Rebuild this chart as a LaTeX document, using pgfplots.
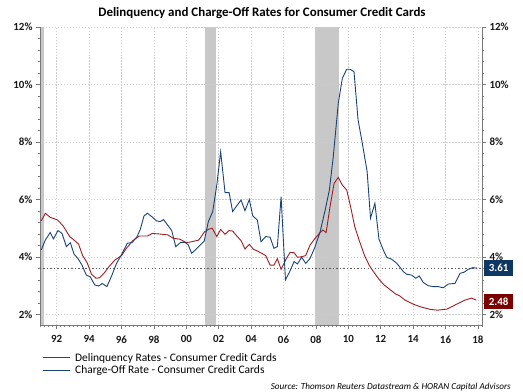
\documentclass[border=0pt]{standalone}
\usepackage{pgfplots}
\pgfplotsset{compat=1.18}
\usepackage{fontspec}
\setmainfont{Carlito}
\definecolor{delred}{RGB}{160,28,32}
\definecolor{chblue}{RGB}{24,66,120}
\definecolor{navybox}{RGB}{14,56,99}
\definecolor{redbox}{RGB}{122,0,0}
\definecolor{recgray}{RGB}{200,200,200}
\definecolor{gridgray}{RGB}{205,205,205}
\definecolor{axgray}{RGB}{120,120,120}
\pgfplotsset{
  chartbase/.style={
    at={(40bp,67bp)}, anchor=south west,
    scale only axis, width=442bp, height=298bp,
    xmin=1990.97, xmax=2018.25, ymin=1.635, ymax=12,
    tick align=outside,
    major tick length=4bp, minor tick length=2.2bp,
    every tick/.style={axgray, line width=0.6pt},
    axis line style={axgray, line width=0.9pt},
    ytick={2,4,...,12},
    minor y tick num=4,
    yticklabel={\pgfmathprintnumber{\tick}\%},
    /pgf/number format/assume math mode=true,
    tick label style={font=\bfseries\fontsize{11}{13}\selectfont, text=black!90},
    clip=false,
  }
}
\begin{document}
\begin{tikzpicture}
\path (0bp,0bp) rectangle (523bp,392bp);
\begin{axis}[chartbase, set layers,
  axis x line*=bottom, axis y line*=left,
  xtick={1992,1994,...,2018},
  xticklabels={92,94,96,98,00,02,04,06,08,10,12,14,16,18},
  minor xtick={1991,1991.25,...,2018.25},
  xmajorgrids, ymajorgrids,
  major grid style={gridgray, dash pattern=on 1.5pt off 1.5pt, line width=0.6pt},
  minor grid style={draw=none},
  xticklabel style={yshift=-3bp},
]
% recession bars
\addplot[on layer=axis background, fill=recgray, draw=none, forget plot]
  coordinates {(1990.97,1.635) (1990.97,12) (1991.2,12) (1991.2,1.635)} -- cycle;
\addplot[on layer=axis background, fill=recgray, draw=none, forget plot]
  coordinates {(2001.17,1.635) (2001.17,12) (2001.83,12) (2001.83,1.635)} -- cycle;
\addplot[on layer=axis background, fill=recgray, draw=none, forget plot]
  coordinates {(2007.92,1.635) (2007.92,12) (2009.42,12) (2009.42,1.635)} -- cycle;
% dotted reference line
\addplot[black!65, line width=1.2pt, dash pattern=on 1.2pt off 2.3pt, forget plot]
  coordinates {(1990.97,3.61) (2018.25,3.61)};
% delinquency
\addplot[delred, line width=0.9pt] coordinates {
(1991.05,5.26) (1991.3,5.52) (1991.6,5.38) (1992.05,5.29) (1992.4,5.08) (1992.8,4.71)
(1993.07,4.59) (1993.35,4.45) (1993.6,4.05) (1993.88,3.8) (1994.15,3.4) (1994.43,3.26)
(1994.65,3.28) (1994.94,3.45) (1995.25,3.68) (1995.6,3.9) (1996.0,4.05) (1996.3,4.3)
(1996.7,4.57) (1997.1,4.73) (1997.6,4.73) (1997.9,4.82) (1998.35,4.8) (1998.85,4.77)
(1999.2,4.65) (1999.6,4.62) (2000.0,4.5) (2000.33,4.53) (2000.77,4.59) (2001.13,4.88)
(2001.4,4.97) (2001.6,5.0) (2001.88,4.71) (2002.12,4.96) (2002.39,4.79) (2002.64,4.92)
(2002.86,4.9) (2003.15,4.71) (2003.38,4.57) (2003.62,4.28) (2003.89,4.44) (2004.14,4.27)
(2004.38,4.21) (2004.65,4.13) (2004.9,4.05) (2005.17,3.72) (2005.41,3.72) (2005.62,3.94)
(2005.85,3.57) (2006.15,3.92) (2006.4,4.16) (2006.65,4.15) (2006.86,3.99) (2007.12,4.01)
(2007.37,4.05) (2007.64,4.42) (2007.95,4.65) (2008.26,4.85) (2008.42,4.94) (2008.63,4.85)
(2008.87,5.75) (2009.12,6.56) (2009.38,6.77) (2009.63,6.5) (2009.9,6.33) (2010.14,5.75)
(2010.4,5.05) (2010.7,4.53) (2011.0,4.05) (2011.3,3.7) (2011.6,3.45) (2011.9,3.22)
(2012.2,3.03) (2012.5,2.9) (2012.9,2.72) (2013.19,2.64) (2013.5,2.5) (2014.0,2.36)
(2014.5,2.26) (2015.05,2.18) (2015.5,2.15) (2016.1,2.19) (2016.65,2.35) (2017.2,2.5)
(2017.6,2.57) (2017.9,2.5)
};
% charge-off
\addplot[chblue, line width=0.9pt] coordinates {
(1991.05,4.25) (1991.3,4.59) (1991.6,4.85) (1991.8,4.63) (1992.08,4.92) (1992.33,4.82)
(1992.6,4.36) (1992.84,4.5) (1993.07,4.1) (1993.31,3.95) (1993.56,3.72) (1993.83,3.37)
(1994.07,3.31) (1994.35,3.03) (1994.59,2.99) (1994.81,3.08) (1995.1,2.97) (1995.41,3.37)
(1995.68,3.76) (1995.99,4.07) (1996.36,4.48) (1996.65,4.5) (1996.96,4.71) (1997.16,4.96)
(1997.39,5.43) (1997.6,5.52) (1997.88,5.4) (1998.15,5.26) (1998.38,5.23) (1998.6,5.3)
(1998.85,5.11) (1999.1,4.92) (1999.35,4.36) (1999.65,4.51) (1999.92,4.51) (2000.12,4.42)
(2000.33,4.13) (2000.6,4.27) (2000.85,4.41) (2001.11,4.56) (2001.36,5.23) (2001.63,5.58)
(2001.88,6.5) (2002.12,7.66) (2002.39,6.24) (2002.64,6.24) (2002.86,5.58) (2003.15,5.81)
(2003.38,5.98) (2003.62,5.61) (2003.89,6.0) (2004.1,5.43) (2004.38,5.29) (2004.61,4.53)
(2004.9,4.71) (2005.17,4.69) (2005.41,4.3) (2005.62,4.36) (2005.85,6.1) (2006.12,3.2)
(2006.38,3.49) (2006.65,3.84) (2006.86,3.76) (2007.12,3.99) (2007.37,3.78) (2007.64,3.95)
(2007.95,4.36) (2008.26,4.88) (2008.57,5.63) (2008.83,6.33) (2009.07,7.49) (2009.38,9.35)
(2009.63,10.22) (2009.9,10.53) (2010.1,10.53) (2010.35,10.45) (2010.6,8.77) (2010.88,7.9)
(2011.16,6.97) (2011.37,5.35) (2011.64,5.87) (2011.89,4.62) (2012.16,4.24) (2012.37,3.99)
(2012.68,3.92) (2012.99,3.78) (2013.19,3.64) (2013.4,3.49) (2013.6,3.4) (2013.91,3.37)
(2014.16,3.26) (2014.38,3.34) (2014.63,3.11) (2014.94,3.0) (2015.25,2.97) (2015.55,2.97)
(2015.86,2.93) (2016.17,3.06) (2016.58,3.08) (2016.89,3.43) (2017.14,3.47) (2017.4,3.57)
(2017.68,3.63) (2017.96,3.61)
};
\node[anchor=west, xshift=2bp, fill=navybox, text=white, font=\bfseries\fontsize{11}{13}\selectfont,
  minimum width=29bp, minimum height=16bp, inner sep=1bp] at (axis cs:2018.25,3.61) {3.61};
\node[anchor=west, xshift=2bp, fill=redbox, text=white, font=\bfseries\fontsize{11}{13}\selectfont,
  minimum width=29bp, minimum height=15bp, inner sep=1bp] at (axis cs:2018.25,2.46) {2.48};
\end{axis}
\begin{axis}[chartbase,
  axis y line*=right, axis x line=none,
  yticklabel pos=right,
]
\end{axis}
% title
\node[font=\bfseries\fontsize{13}{15}\selectfont] at (262bp,379.3bp)
  {Delinquency and Charge-Off Rates for Consumer Credit Cards};
% legend
\draw[delred, line width=0.9pt] (43bp,34.5bp) -- (70bp,34.5bp);
\node[anchor=west, font=\fontsize{11.5}{13}\selectfont, inner sep=0pt] at (75bp,34bp)
  {Delinquency Rates - Consumer Credit Cards};
\draw[chblue, line width=0.9pt] (43bp,21.5bp) -- (70bp,21.5bp);
\node[anchor=west, font=\fontsize{11.5}{13}\selectfont, inner sep=0pt] at (75bp,21bp)
  {Charge-Off Rate - Consumer Credit Cards};
% source
\node[anchor=east, font=\itshape\fontsize{9.2}{11}\selectfont, inner sep=0pt] at (511bp,5.3bp)
  {Source: Thomson Reuters Datastream \& HORAN Capital Advisors};
\end{tikzpicture}
\end{document}
